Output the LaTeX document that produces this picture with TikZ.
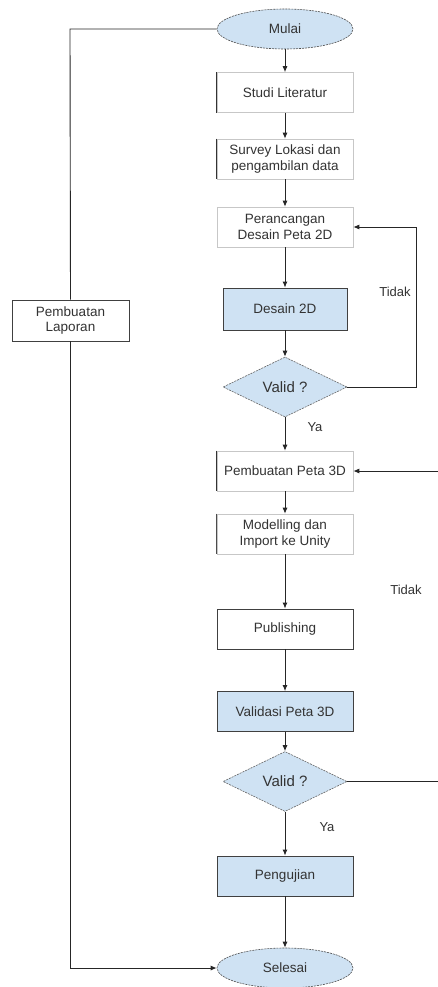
\documentclass[tikz,border=0pt]{standalone}
\usepackage{fontspec}
\setmainfont{Liberation Sans}
\usetikzlibrary{shapes.geometric,arrows.meta}
\definecolor{lblue}{HTML}{CFE2F3}
\definecolor{txt}{HTML}{333333}
\tikzset{
  base/.style={font=\fontsize{13.5}{15.5}\selectfont, text=txt, align=center, inner sep=1pt},
  lightbox/.style={base, rectangle, draw=black!22, line width=0.6pt, fill=white, minimum width=136pt, minimum height=40pt},
  darkbox/.style={base, rectangle, draw=black!75, line width=0.8pt, fill=white, minimum width=136pt, minimum height=40pt},
  bluebox/.style={darkbox, fill=lblue},
  term/.style={base, ellipse, draw=black!70, dashed, dash pattern=on 2pt off 1pt, line width=0.6pt, fill=lblue, minimum width=136pt, minimum height=40pt},
  decision/.style={base, diamond, draw=black!60, dash pattern=on 2pt off 1pt, line width=0.6pt, fill=lblue, minimum width=124pt, minimum height=60pt, shape aspect=2, inner sep=0pt, font=\fontsize{15}{17}\selectfont},
  flow/.style={draw=black!85, line width=0.9pt, -{Latex[length=6pt,width=5pt]}},
  plain/.style={draw=black!85, line width=0.9pt},
  lbl/.style={base, font=\fontsize{13}{15}\selectfont}
}
\begin{document}
\begin{tikzpicture}[x=1pt,y=-1pt]
\useasboundingbox[fill=white] (0,0) rectangle (437,987);
\node[term] (mulai) at (285,29) {Mulai};
\node[lightbox] (studi) at (285,92.5) {Studi Literatur};
\node[lightbox] (survey) at (285,159) {Survey Lokasi dan\\pengambilan data};
\node[lightbox] (peran) at (285,227) {Perancangan\\Desain Peta 2D};
\node[bluebox, minimum width=124pt, minimum height=42pt] (desain) at (285,309) {Desain 2D};
\node[decision] (valid1) at (285,387) {Valid ?};
\node[lightbox] (peta3d) at (285,471) {Pembuatan Peta 3D};
\node[lightbox] (model) at (285,534) {Modelling dan\\Import ke Unity};
\node[darkbox] (pub) at (285,629) {Publishing};
\node[bluebox] (validasi) at (285,711.5) {Validasi Peta 3D};
\node[decision] (valid2) at (285,781.5) {Valid ?};
\node[bluebox] (uji) at (285,876) {Pengujian};
\node[term] (selesai) at (285,968) {Selesai};
\node[darkbox, minimum width=117pt, minimum height=41pt] (lapor) at (70.5,320.5) {Pembuatan\\Laporan};
% darker left edges
\draw[black!80, line width=0.7pt] (studi.north west) -- (studi.south west);
\draw[black!80, line width=0.7pt] (survey.north west) -- (survey.south west);
\draw[black!80, line width=0.7pt] (peta3d.north west) -- (peta3d.south west);
\draw[black!70, line width=0.7pt] (model.north west) -- (model.south west);
% main flow
\draw[flow] (mulai) -- (studi);
\draw[flow] (studi) -- (survey);
\draw[flow] (survey) -- (peran);
\draw[flow] (peran) -- (desain);
\draw[flow] (desain) -- (valid1);
\draw[flow] (valid1) -- (peta3d);
\draw[flow] (peta3d) -- (model);
\draw[flow] (model) -- (pub);
\draw[flow] (pub) -- (validasi);
\draw[flow] (validasi) -- (valid2);
\draw[flow] (valid2) -- (uji);
\draw[flow] (uji) -- (selesai);
% loops
\coordinate (r1) at (416,0);
\coordinate (r2) at (440,0);
\draw[flow] (valid1.east) -- (valid1.east -| r1) -- (peran.east -| r1) -- (peran.east);
\draw[flow] (valid2.east) -- (valid2.east -| r2) -- (peta3d.east -| r2) -- (peta3d.east);
\coordinate (l1) at (70,0);
\draw[plain] (mulai.west) -- (mulai.west -| l1) -- (lapor.north);
\draw[flow] (lapor.south) -- (lapor.south |- selesai.west) -- (selesai.west);
% labels
\node[lbl] (t1) at (395,292) {Tidak};
\node[lbl] (t2) at (406,590) {Tidak};
\node[lbl] (y1) at (315,427) {Ya};
\node[lbl] (y2) at (327,827) {Ya};
\end{tikzpicture}
\end{document}
